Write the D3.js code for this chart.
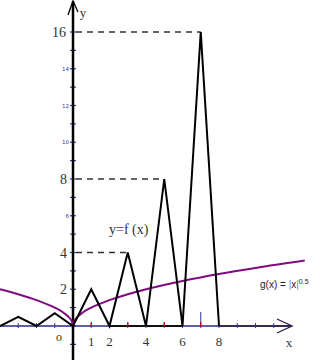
<!DOCTYPE html>
<html><head><meta charset="utf-8">
<script src="https://cdn.jsdelivr.net/npm/d3@7"></script>
<style>html,body{margin:0;padding:0;background:#fff;}svg{display:block;}</style>
</head><body>
<svg id="c" width="320" height="360"></svg>
<script>
// f(x) polyline vertices
const fX = [-4, -3, -2, -1, 0, 1, 2, 3, 4, 5, 6, 7, 8];
const fY = [0, 0.5, 0, 0.7, 0, 2, 0, 4, 0, 8, 0, 16, 0];
// g(x) = |x|^0.5 samples
const gX = [-4, -3, -2, -1, -0.5, -0.2, -0.05, 0, 0.05, 0.2, 0.5, 1, 2, 3, 4, 6, 8, 10, 12.7];
const gY = [2, 1.73, 1.41, 1, 0.71, 0.45, 0.22, 0, 0.22, 0.45, 0.71, 1, 1.41, 1.73, 2, 2.45, 2.83, 3.16, 3.56];
// dashed guide levels (peak x, peak y)
const guideX = [3, 5, 7];
const guideY = [4, 8, 16];
// tick labels
const bigYLabels = [2, 4, 8, 16];
const smallYLabels = [6, 10, 12, 14];
const xLabels = [1, 2, 4, 6, 8];
const redMarks = [0, 1, 3, 5, 7];

const svg = d3.select("#c");
const x = d3.scaleLinear().domain([0, 8]).range([73, 219]);
const y = d3.scaleLinear().domain([0, 16]).range([326, 32]);

// x axis line
svg.append("line").attr("x1", 0).attr("x2", 292).attr("y1", y(0)).attr("y2", y(0))
  .attr("stroke", "#2a2a8a").attr("stroke-width", 1.5);
svg.append("line").attr("x1", x(2)).attr("x2", x(6)).attr("y1", y(0)).attr("y2", y(0))
  .attr("stroke", "#111").attr("stroke-width", 2);
svg.append("line").attr("x1", x(8)).attr("x2", 290).attr("y1", y(0)).attr("y2", y(0))
  .attr("stroke", "#2a1a3a").attr("stroke-width", 1.5);
// x arrow
svg.append("path").attr("d", `M277,319 L292,${y(0)} L277,333`).attr("fill", "none")
  .attr("stroke", "#2a1a3a").attr("stroke-width", 1.3);

// x ticks
const xt = d3.range(-3, 12);
svg.selectAll(".xt").data(xt).join("line")
  .attr("x1", d => x(d)).attr("x2", d => x(d))
  .attr("y1", d => d === 7 ? y(0) - 14 : y(0) - 3).attr("y2", y(0) + 2)
  .attr("stroke", "#3333aa").attr("stroke-width", 1);
svg.selectAll(".rm").data(redMarks).join("line")
  .attr("x1", d => x(d)).attr("x2", d => x(d))
  .attr("y1", y(0) - 4).attr("y2", y(0) + 1)
  .attr("stroke", "#cc0000").attr("stroke-width", 1.3);

// y ticks
const yt = d3.range(-1, 17);
svg.selectAll(".yt").data(yt).join("line")
  .attr("x1", x(0) - 3).attr("x2", x(0) + 3)
  .attr("y1", d => y(d)).attr("y2", d => y(d))
  .attr("stroke", "#3333aa").attr("stroke-width", 1.2);

// y axis
svg.append("line").attr("x1", x(0)).attr("x2", x(0)).attr("y1", 1).attr("y2", 360)
  .attr("stroke", "#000").attr("stroke-width", 2.5);
svg.append("path").attr("d", `M68,15 L${x(0)},1 L78,12`).attr("fill", "none")
  .attr("stroke", "#000").attr("stroke-width", 1.3);

// dashed guides
svg.selectAll(".g").data(guideY).join("line")
  .attr("x1", x(0) + 3).attr("x2", (d, i) => x(guideX[i]))
  .attr("y1", d => y(d)).attr("y2", d => y(d))
  .attr("stroke", "#333").attr("stroke-width", 1.5).attr("stroke-dasharray", "6,5");

// g curve
const gData = gX.map((v, i) => [v, gY[i]]);
svg.append("path").datum(gData)
  .attr("d", d3.line().x(d => x(d[0])).y(d => y(d[1])).curve(d3.curveMonotoneX))
  .attr("fill", "none").attr("stroke", "#800a80").attr("stroke-width", 2);

// f polyline
const fData = fX.map((v, i) => [v, fY[i]]);
svg.append("path").datum(fData)
  .attr("d", d3.line().x(d => x(d[0])).y(d => y(d[1])))
  .attr("fill", "none").attr("stroke", "#000").attr("stroke-width", 2).attr("stroke-linejoin", "miter");

// labels
const serif = "'Liberation Serif', 'DejaVu Serif', serif";
svg.selectAll(".by").data(bigYLabels).join("text")
  .attr("x", d => d >= 10 ? 66 : 67).attr("y", d => y(d) + 5)
  .attr("text-anchor", "end").attr("font-family", serif).attr("font-size", 14)
  .attr("fill", "#333").text(d => d);
svg.selectAll(".sy").data(smallYLabels).join("text")
  .attr("x", 69).attr("y", d => y(d) + 2)
  .attr("text-anchor", "end").attr("font-family", "'DejaVu Sans', sans-serif").attr("font-size", 5.5)
  .attr("fill", "#3333aa").text(d => d);
svg.selectAll(".xl").data(xLabels).join("text")
  .attr("x", d => x(d)).attr("y", 346)
  .attr("text-anchor", "middle").attr("font-family", serif).attr("font-size", 13)
  .attr("fill", "#333").text(d => d);
svg.append("text").attr("x", 59).attr("y", 341).attr("text-anchor", "middle")
  .attr("font-family", serif).attr("font-size", 12).attr("fill", "#333").text("o");
svg.append("text").attr("x", 289).attr("y", 347).attr("text-anchor", "middle")
  .attr("font-family", serif).attr("font-size", 13).attr("fill", "#333").text("x");
svg.append("text").attr("x", 83).attr("y", 17).attr("text-anchor", "middle")
  .attr("font-family", serif).attr("font-size", 13).attr("fill", "#333").text("y");
svg.append("text").attr("x", 109).attr("y", 234)
  .attr("font-family", serif).attr("font-size", 14).attr("fill", "#333").text("y=f (x)");
const gl = svg.append("text").attr("x", 260).attr("y", 288)
  .attr("font-family", "'Liberation Sans', Arial, sans-serif").attr("font-size", 10).attr("fill", "#222");
gl.append("tspan").text("g(x) = ");
gl.append("tspan").attr("fill", "#888").text("|");
gl.append("tspan").text("x");
gl.append("tspan").attr("fill", "#888").text("|");
gl.append("tspan").attr("font-size", 7).attr("dy", -4).text("0.5");
</script>
</body></html>
